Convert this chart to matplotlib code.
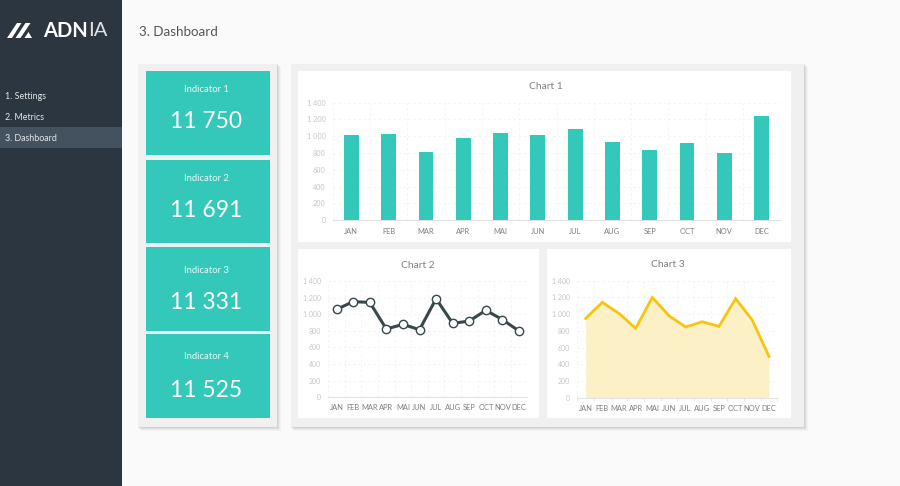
import matplotlib
matplotlib.use("Agg")
import matplotlib.pyplot as plt
from matplotlib.patches import Rectangle, Polygon

plt.rcParams['font.family'] = ['Lato', 'DejaVu Sans']

W, H = 900, 486

months = ["JAN", "FEB", "MAR", "APR", "MAI", "JUN", "JUL", "AUG", "SEP", "OCT", "NOV", "DEC"]
chart1_values = [1015, 1031, 813, 980, 1035, 1015, 1087, 929, 837, 920, 801, 1245]
chart2_values = [1059, 1151, 1143, 822, 878, 814, 1187, 890, 918, 1047, 935, 798]
chart3_values = [949, 1141, 1009, 830, 1200, 981, 846, 909, 853, 1185, 929, 495]
y_ticks = [0, 200, 400, 600, 800, 1000, 1200, 1400]
y_tick_labels = ["0", "200", "400", "600", "800", "1 000", "1 200", "1 400"]
indicator_names = ["Indicator 1", "Indicator 2", "Indicator 3", "Indicator 4"]
indicator_values = ["11 750", "11 691", "11 331", "11 525"]
menu_items = ["1. Settings", "2. Metrics", "3. Dashboard"]

TEAL = "#34C8BA"
DARK = "#37474A"
YELLOW = "#F5C50F"
FILL = "#FBEFC0"
GRID = "#F2F2F2"
AXIS = "#E2E2E2"
TICKCOL = "#C6C6C6"
LABELCOL = "#7F7F7F"

fig = plt.figure(figsize=(W / 100, H / 100), dpi=100, facecolor="#FAFAFA")

bg = fig.add_axes([0, 0, 1, 1], zorder=0)
bg.set_xlim(0, W)
bg.set_ylim(H, 0)
bg.axis("off")


def box(x0, y0, x1, y1, color, z=1, alpha=1.0):
    bg.add_patch(Rectangle((x0, y0), x1 - x0, y1 - y0, facecolor=color,
                           edgecolor="none", zorder=z, alpha=alpha))


def panel(x0, y0, x1, y1):
    for off, a in [(4, 0.05), (3, 0.07), (2, 0.10), (1, 0.14)]:
        box(x0 + off - 1, y0 + off - 1, x1 + off, y1 + off, "#808080", 1, a)
    box(x0, y0, x1, y1, "#F0F0F0", 2)


# sidebar
box(0, 0, 122, H, "#2B3640", 1)
box(0, 127, 122, 148, "#44525F", 2)
for label, y in zip(menu_items, [96, 117.5, 138.5]):
    bg.text(5, y, label, color="#E4E7EA", fontsize=6.4, va="center", ha="left", zorder=3)

# logo
logo_shapes = [
    [(7, 38), (17, 23), (21.5, 23), (12, 38)],
    [(15.5, 38), (25.5, 23), (30.5, 23), (20.5, 38)],
    [(24.5, 38), (28.5, 32), (32, 38)],
]
for pts in logo_shapes:
    bg.add_patch(Polygon(pts, closed=True, facecolor="white", edgecolor="none", zorder=3))
bg.text(43, 31, "ADN", color="white", fontsize=14.5, fontweight="bold", va="center", ha="left", zorder=3)
bg.text(88, 31, "IA", color="#E0E3E6", fontsize=14.5, fontweight="normal", va="center", ha="left", zorder=3)

# page title
bg.text(139, 32, "3. Dashboard", color="#555555", fontsize=9.6, va="center", ha="left", zorder=3)

# panels
panel(138, 64, 277, 427)
panel(291, 64, 804, 427)

# indicator cards: (top, bottom, label y, value y)
cards = [(71, 155, 89, 121.5), (160, 243, 178, 210), (247, 331, 270, 302), (334, 418, 356, 390.5)]
for (y0, y1, ly, vy), name, val in zip(cards, indicator_names, indicator_values):
    box(146, y0, 270, y1, TEAL, 3)
    bg.text(206, ly, name, color="#E6F8F6", fontsize=6.8, ha="center", va="center", zorder=4)
    bg.text(206, vy, val, color="white", fontsize=16.5, ha="center", va="center", zorder=4)

# chart cards
box(298, 71, 791, 242, "white", 3)
box(298, 249, 539, 418, "white", 3)
box(547, 249, 791, 418, "white", 3)


def make_axes(x0, y0, x1, y1, tick_size, xpad, boundary_ticks=False):
    ax = fig.add_axes([x0 / W, 1 - y1 / H, (x1 - x0) / W, (y1 - y0) / H], zorder=5)
    ax.patch.set_alpha(0)
    ax.set_xlim(-0.5, 11.5)
    ax.set_ylim(0, 1400)
    ax.set_yticks(y_ticks)
    ax.set_yticklabels(y_tick_labels, color=TICKCOL, fontsize=tick_size)
    ax.set_xticks(range(12))
    ax.set_xticklabels(months, color=LABELCOL, fontsize=5.4)
    ax.set_xticks([i - 0.5 for i in range(13)], minor=True)
    ax.grid(True, which="major", axis="y", color=GRID, lw=0.6, ls=(0, (3, 3)))
    ax.grid(True, which="minor", axis="x", color=GRID, lw=0.6, ls=(0, (3, 3)))
    ax.set_axisbelow(True)
    ax.tick_params(axis="both", which="major", length=0)
    ax.tick_params(axis="x", which="major", pad=xpad)
    ax.tick_params(axis="y", which="major", pad=5)
    if boundary_ticks:
        ax.tick_params(axis="x", which="minor", length=2, width=0.6, color=AXIS)
    else:
        ax.tick_params(axis="x", which="minor", length=0)
    for s in ["top", "right", "left"]:
        ax.spines[s].set_visible(False)
    ax.spines["bottom"].set_color(AXIS)
    ax.spines["bottom"].set_linewidth(0.8)
    return ax


# Chart 1
ax1 = make_axes(332.8, 102.7, 780.2, 220.3, 5.2, 5.5)
ax1.bar(range(12), chart1_values, width=0.4, color=TEAL, zorder=3)
bg.text(545.5, 86.5, "Chart 1", color=LABELCOL, fontsize=7.4, ha="center", va="center", zorder=4)

# Chart 2
ax2 = make_axes(328.3, 281, 527.3, 397.3, 5.0, 5)
ax2.plot(range(12), chart2_values, color=DARK, lw=2.2, marker="o", ms=6,
         mfc="white", mec=DARK, mew=1.0, zorder=3, clip_on=False)
bg.text(418, 265, "Chart 2", color=LABELCOL, fontsize=7.4, ha="center", va="center", zorder=4)

# Chart 3
ax3 = make_axes(577.3, 280.7, 777.3, 397.7, 5.0, 5, boundary_ticks=True)
ax3.fill_between(range(12), chart3_values, 0, color=FILL, lw=0, alpha=0.9, zorder=2)
ax3.plot(range(12), chart3_values, color=YELLOW, lw=2.0, zorder=3, solid_joinstyle="miter")
bg.text(668, 264.5, "Chart 3", color=LABELCOL, fontsize=7.4, ha="center", va="center", zorder=4)

fig.savefig("out.png", dpi=100, facecolor=fig.get_facecolor())
